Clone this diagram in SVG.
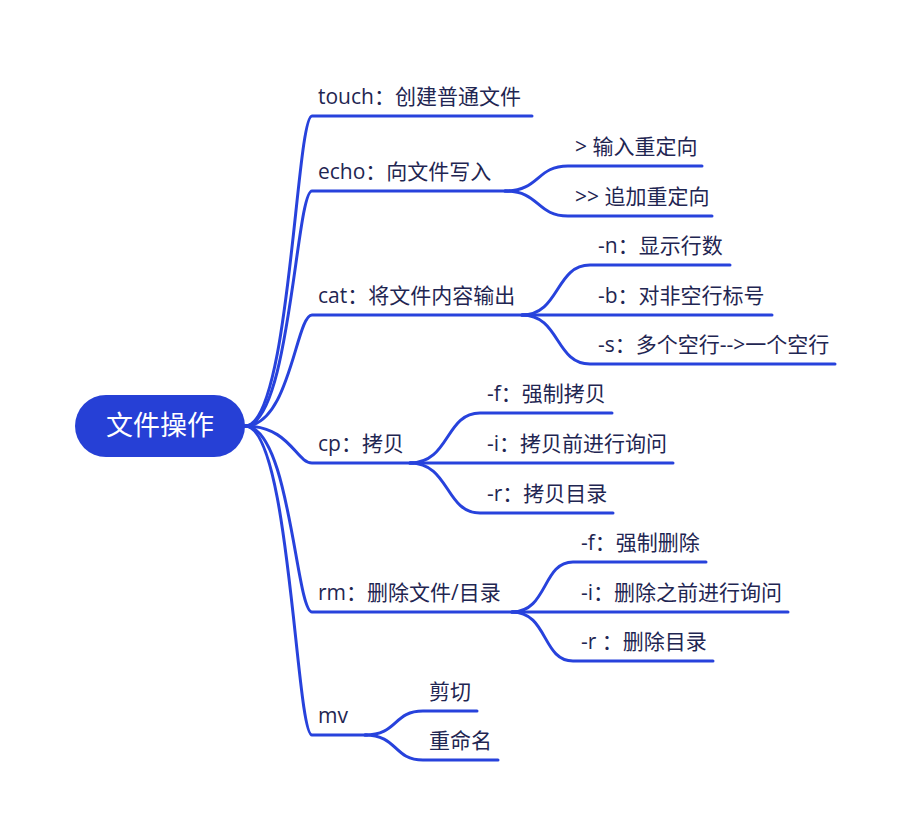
<svg xmlns="http://www.w3.org/2000/svg" width="910" height="837" viewBox="0 0 910 837">
<style>
.ln{fill:none;stroke:#2742dc;stroke-width:3;stroke-linecap:round}
.t{font-family:"Open Sans","Noto Sans CJK SC",sans-serif;font-size:21px;fill:#1f2652}
.root{font-family:"Open Sans","Noto Sans CJK SC",sans-serif;font-size:27px;fill:#ffffff}
</style>
<rect width="910" height="837" fill="#ffffff"/>
<g id="connectors">
<path class="ln" d="M245,426 C290,426 296,116 312,116 L532,116"/>
<path class="ln" d="M245,426 C290,426 296,191 312,191 L510,191"/>
<path class="ln" d="M245,426 C290,426 296,315 312,315 L527,315"/>
<path class="ln" d="M245,426 C290,426 296,463 312,463 L413,463"/>
<path class="ln" d="M245,426 C290,426 296,612 312,612 L517,612"/>
<path class="ln" d="M245,426 C290,426 296,735 312,735 L367,735"/>
<path class="ln" d="M505,191 C540,191 536,166 568,166 L702,166"/>
<path class="ln" d="M505,191 C540,191 536,216 568,216 L712,216"/>
<path class="ln" d="M522,315 C560,315 555,265 590,265 L730,265"/>
<path class="ln" d="M522,315 L772,315"/>
<path class="ln" d="M522,315 C560,315 555,364 590,364 L835,364"/>
<path class="ln" d="M410,463 C450,463 445,413 480,413 L612,413"/>
<path class="ln" d="M410,463 L673,463"/>
<path class="ln" d="M410,463 C450,463 445,513 480,513 L613,513"/>
<path class="ln" d="M512,612 C548,612 542,562 573,562 L706,562"/>
<path class="ln" d="M512,612 L788,612"/>
<path class="ln" d="M512,612 C548,612 542,661 573,661 L713,661"/>
<path class="ln" d="M365,735 C398,735 393,711 423,711 L477,711"/>
<path class="ln" d="M365,735 C398,735 393,760 423,760 L498,760"/>
</g>
<g id="root">
<rect x="75" y="395" width="170" height="62" rx="31" fill="#2640d6"/>
<text class="root" x="160" y="435" text-anchor="middle">文件操作</text>
</g>
<g id="touch"><text class="t" x="318" y="104">touch：创建普通文件</text></g>
<g id="echo"><text class="t" x="318" y="179">echo：向文件写入</text></g>
<g id="echo-1"><text class="t" x="575" y="154">&gt; 输入重定向</text></g>
<g id="echo-2"><text class="t" x="575" y="204">&gt;&gt; 追加重定向</text></g>
<g id="cat"><text class="t" x="318" y="303">cat：将文件内容输出</text></g>
<g id="cat-n"><text class="t" x="598" y="253">-n：显示行数</text></g>
<g id="cat-b"><text class="t" x="598" y="303">-b：对非空行标号</text></g>
<g id="cat-s"><text class="t" x="598" y="352">-s：多个空行--&gt;一个空行</text></g>
<g id="cp"><text class="t" x="318" y="451">cp：拷贝</text></g>
<g id="cp-f"><text class="t" x="487" y="401">-f：强制拷贝</text></g>
<g id="cp-i"><text class="t" x="487" y="451">-i：拷贝前进行询问</text></g>
<g id="cp-r"><text class="t" x="487" y="501">-r：拷贝目录</text></g>
<g id="rm"><text class="t" x="318" y="600">rm：删除文件/目录</text></g>
<g id="rm-f"><text class="t" x="581" y="550">-f：强制删除</text></g>
<g id="rm-i"><text class="t" x="581" y="600">-i：删除之前进行询问</text></g>
<g id="rm-r"><text class="t" x="581" y="649">-r ：删除目录</text></g>
<g id="mv"><text class="t" x="318" y="723">mv</text></g>
<g id="mv-1"><text class="t" x="429" y="699">剪切</text></g>
<g id="mv-2"><text class="t" x="429" y="748">重命名</text></g>
</svg>
